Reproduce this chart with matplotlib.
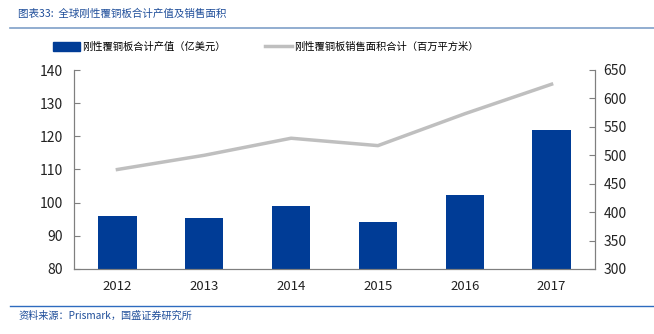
import matplotlib
matplotlib.use("Agg")
import matplotlib.pyplot as plt
from matplotlib.lines import Line2D
import numpy as np

plt.rcParams['font.family'] = ['Noto Sans CJK SC', 'DejaVu Sans']

years = ['2012', '2013', '2014', '2015', '2016', '2017']
output_value = [95.9, 95.3, 99.1, 94.1, 102.2, 121.8]     # 亿美元
sales_area = [475, 500, 530, 517, 573, 625]               # 百万平方米
left_ticks = [80, 90, 100, 110, 120, 130, 140]
right_ticks = [300, 350, 400, 450, 500, 550, 600, 650]

bar_color = '#003c96'
line_color = '#bfbfbf'
title_color = '#1f4e9a'
axis_color = '#7f7f7f'

fig = plt.figure(figsize=(6.54, 3.34), dpi=100)
ax = fig.add_axes([74/654, 1-269/334, (595-74)/654, (269-70)/334])
ax2 = ax.twinx()

x = np.arange(len(years))
ax.bar(x, output_value, width=0.44, color=bar_color, zorder=2)
ax2.plot(x, sales_area, color=line_color, lw=2.5, zorder=3)

ax.set_ylim(80, 140)
ax.set_yticks(left_ticks)
ax2.set_ylim(300, 650)
ax2.set_yticks(right_ticks)
ax.set_xlim(-0.5, len(years)-0.5)
ax.set_xticks(x)
ax.set_xticklabels(years)

for a in (ax, ax2):
    a.spines['top'].set_visible(False)
    for s in ('left', 'right', 'bottom'):
        a.spines[s].set_color(axis_color)
        a.spines[s].set_linewidth(0.8)
    a.tick_params(axis='y', direction='in', length=4, color=axis_color, labelsize=10, labelcolor='#222222')
ax.tick_params(axis='x', length=0, labelsize=9.5, labelcolor='#222222', pad=8)
ax.tick_params(axis='y', pad=8)
ax2.tick_params(axis='y', pad=6)
ax2.set_zorder(ax.get_zorder() + 1)
ax2.patch.set_visible(False)

# Title and rules
fig.text(18/654, 1-14/334, '图表33:  全球刚性覆铜板合计产值及销售面积', color=title_color,
         fontsize=7.6, style='italic', va='center', ha='left')
fig.add_artist(Line2D([10/654, 1.0], [1-28/334, 1-28/334], color='#7f9fc8', lw=1.2))
fig.add_artist(Line2D([10/654, 1.0], [1-306/334, 1-306/334], color='#2e6bbf', lw=1.0))
fig.text(18/654, 1-316/334, '资料来源：Prismark，国盛证券研究所', color=title_color,
         fontsize=7.3, style='italic', va='center', ha='left')

# Legend
handles = [plt.Rectangle((0, 0), 1, 1, color=bar_color),
           Line2D([0], [0], color=line_color, lw=2.5)]
labels = ['刚性覆铜板合计产值（亿美元）', '刚性覆铜板销售面积合计（百万平方米）']
fig.legend(handles, labels, loc='center left', bbox_to_anchor=(50/654, 1-47/334), ncol=2,
           frameon=False, fontsize=7.4, handlelength=2.6, handleheight=1.0,
           columnspacing=3.8, handletextpad=0.25, borderaxespad=0, borderpad=0.3)

fig.savefig('out.png', dpi=100)
